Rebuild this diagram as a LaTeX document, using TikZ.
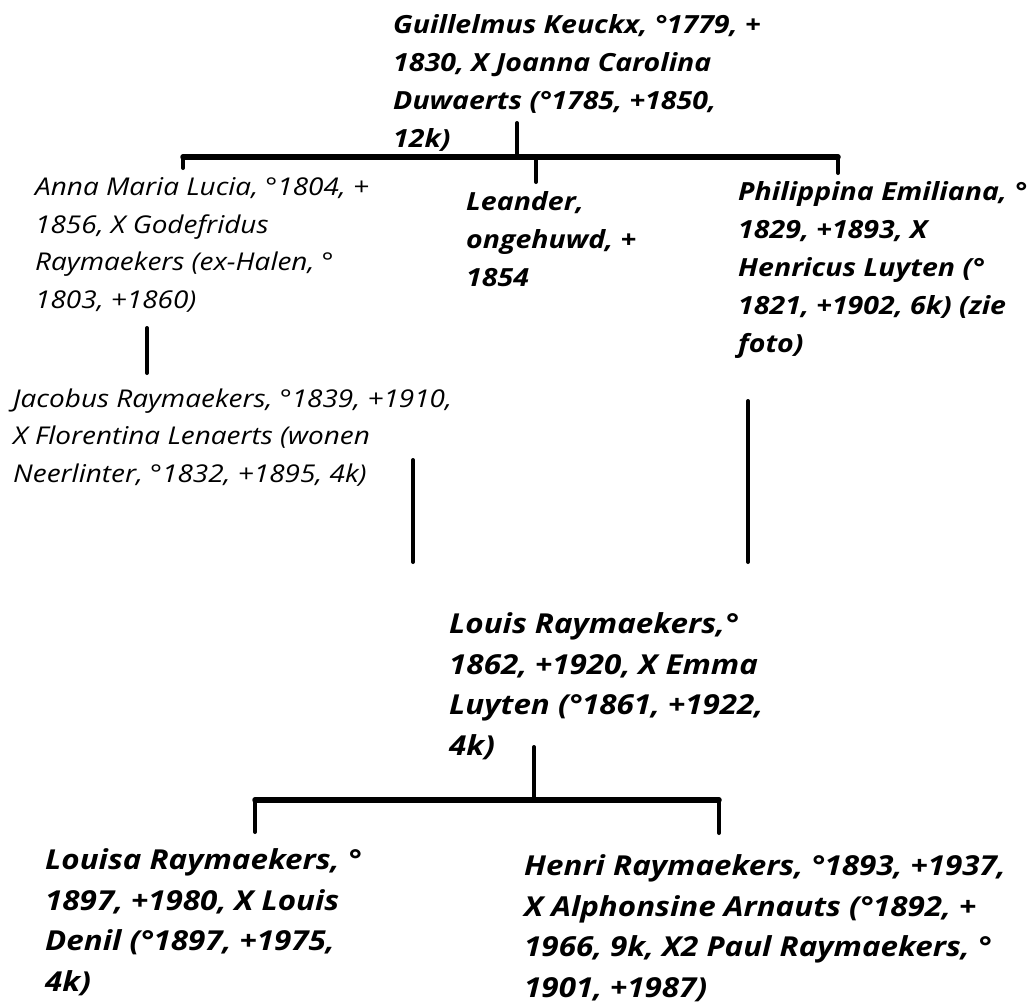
\documentclass[tikz,border=0pt]{standalone}
\usepackage{fontspec}
\setmainfont{Open Sans}[FakeStretch=1.14]

\begin{document}
\begin{tikzpicture}[x=1pt,y=-1pt]
\tikzstyle{person}=[anchor=base west, align=left, inner sep=0pt, font=\bfseries\itshape\fontsize{25}{38}\selectfont]
\tikzstyle{light}=[person, font=\itshape\fontsize{24.5}{37.5}\selectfont]
\tikzstyle{large}=[person, font=\bfseries\itshape\fontsize{27.5}{40.5}\selectfont]
\tikzstyle{bar}=[line width=5.5pt, line cap=round]
\tikzstyle{stem}=[line width=4pt, line cap=round]

\useasboundingbox (0,0) rectangle (1035,1004);

% the base anchor sits on the last line
\node[person] (guil) at (393,147) {Guillelmus Keuckx, °1779, +\\1830, X Joanna Carolina\\Duwaerts (°1785, +1850,\\12k)};
\node[light] (anna) at (35,308) {Anna Maria Lucia, °1804, +\\1856, X Godefridus\\Raymaekers (ex-Halen, °\\1803, +1860)};
\node[person] (leander) at (466,286) {Leander,\\ongehuwd, +\\1854};
\node[person] (philip) at (738,352) {Philippina Emiliana, °\\1829, +1893, X\\Henricus Luyten (°\\1821, +1902, 6k) (zie\\foto)};
\node[light] (jacobus) at (13,482) {Jacobus Raymaekers, °1839, +1910,\\X Florentina Lenaerts (wonen\\Neerlinter, °1832, +1895, 4k)};
\node[large] (louis) at (449,755) {Louis Raymaekers,°\\1862, +1920, X Emma\\Luyten (°1861, +1922,\\4k)};
\node[large] (louisa) at (45,991) {Louisa Raymaekers, °\\1897, +1980, X Louis\\Denil (°1897, +1975,\\4k)};
\node[large] (henri) at (524,997) {Henri Raymaekers, °1893, +1937,\\X Alphonsine Arnauts (°1892, +\\1966, 9k, X2 Paul Raymaekers, °\\1901, +1987)};

% first family
\coordinate (guil-s) at (517,123);
\coordinate (bar1) at (517,157);
\coordinate (bar1-w) at (183,157);
\coordinate (bar1-m) at (536,157);
\coordinate (bar1-e) at (838,157);
\coordinate (anna-n) at (183,168);
\coordinate (leander-n) at (536,182);
\coordinate (philip-n) at (838,173);

\draw[stem] (guil-s) -- (bar1);
\draw[bar] (bar1-w) -- (bar1-e);
\draw[stem] (bar1-w) -- (anna-n);
\draw[stem] (bar1-m) -- (leander-n);
\draw[stem] (bar1-e) -- (philip-n);

% down to Louis
\coordinate (anna-s) at (147,328);
\coordinate (jacobus-n) at (147,373);
\coordinate (jacobus-s) at (413,460);
\coordinate (louis-w) at (413,562);
\coordinate (philip-s) at (748,401);
\coordinate (louis-e) at (748,562);

\draw[stem] (anna-s) -- (jacobus-n);
\draw[stem] (jacobus-s) -- (louis-w);
\draw[stem] (philip-s) -- (louis-e);

% second family
\coordinate (louis-s) at (534,747);
\coordinate (bar2) at (534,800);
\coordinate (bar2-w) at (255,800);
\coordinate (bar2-e) at (719,800);
\coordinate (louisa-n) at (255,832);
\coordinate (henri-n) at (719,833);

\draw[stem] (louis-s) -- (bar2);
\draw[bar] (bar2-w) -- (bar2-e);
\draw[stem] (bar2-w) -- (louisa-n);
\draw[stem] (bar2-e) -- (henri-n);
\end{tikzpicture}
\end{document}
